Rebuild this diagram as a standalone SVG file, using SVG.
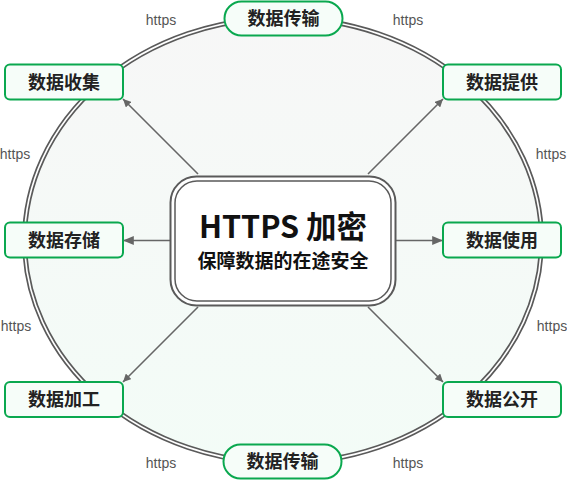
<svg xmlns="http://www.w3.org/2000/svg" width="567" height="481" viewBox="0 0 567 481">
<defs>
<linearGradient id="bg" x1="0" y1="0" x2="0" y2="1">
<stop offset="0" stop-color="#f7f7f7"/>
<stop offset="1" stop-color="#f3fcf7"/>
</linearGradient>
<marker id="arr" viewBox="0 0 10 10" refX="10" refY="5" markerWidth="8" markerHeight="8" markerUnits="userSpaceOnUse" orient="auto">
<path d="M0,0 L10,5 L0,10 z" fill="#666"/>
</marker>
<marker id="arrL" viewBox="0 0 12 10" refX="12" refY="5" markerWidth="12" markerHeight="9" markerUnits="userSpaceOnUse" orient="auto">
<path d="M0,0 L12,5 L0,10 z" fill="#666"/>
</marker>
</defs>
<style>
.node rect{fill:#f6fdf9;stroke:#0aa84f;stroke-width:2}
.node text{font-family:"Noto Sans CJK SC","Noto Sans",sans-serif;font-weight:bold;font-size:18px;fill:#222;text-anchor:middle}
.lbl{font-family:"Liberation Sans",Arial,sans-serif;font-size:14px;fill:#555;text-anchor:middle}
.conn line{stroke:#666;stroke-width:1.6;fill:none}
</style>
<g id="ring">
<ellipse cx="283" cy="240.5" rx="258.5" ry="222.5" fill="url(#bg)" stroke="#5a5a5a" stroke-width="5"/>
<ellipse cx="283" cy="240.5" rx="258.5" ry="222.5" fill="none" stroke="#fff" stroke-width="1.6"/>
</g>
<g class="lbl-group">
<text class="lbl" x="161" y="25">https</text>
<text class="lbl" x="408" y="25">https</text>
<text class="lbl" x="15" y="159">https</text>
<text class="lbl" x="551" y="159">https</text>
<text class="lbl" x="16" y="331">https</text>
<text class="lbl" x="552" y="331">https</text>
<text class="lbl" x="161" y="468">https</text>
<text class="lbl" x="408" y="468">https</text>
</g>
<g class="conn" id="connectors">
<line x1="198" y1="174" x2="123" y2="99" marker-end="url(#arr)"/>
<line x1="368" y1="174" x2="443" y2="99" marker-end="url(#arr)"/>
<line x1="170" y1="240.5" x2="123" y2="240.5" marker-end="url(#arrL)"/>
<line x1="396" y1="240.5" x2="443" y2="240.5" marker-end="url(#arrL)"/>
<line x1="198" y1="307" x2="123" y2="382" marker-end="url(#arr)"/>
<line x1="368" y1="307" x2="443" y2="382" marker-end="url(#arr)"/>
</g>
<g id="center">
<rect x="170.5" y="176.5" width="225" height="129" rx="26" fill="#fff" stroke="#5a5a5a" stroke-width="2"/>
<rect x="175" y="181" width="216" height="120" rx="22" fill="#fff" stroke="#5a5a5a" stroke-width="1.5"/>
<text x="283" y="238" font-family="Noto Sans CJK SC,Noto Sans,sans-serif" font-weight="bold" font-size="30.5" fill="#111" text-anchor="middle">HTTPS 加密</text>
<text x="283" y="268" font-family="Noto Sans CJK SC,Noto Sans,sans-serif" font-weight="bold" font-size="19" fill="#111" text-anchor="middle">保障数据的在途安全</text>
</g>
<g class="node" id="n-top"><rect x="224.5" y="1.5" width="118" height="34" rx="17"/><text x="283.5" y="24.5">数据传输</text></g>
<g class="node" id="n-collect"><rect x="5" y="64.5" width="118" height="35" rx="5"/><text x="64" y="88.5">数据收集</text></g>
<g class="node" id="n-provide"><rect x="443" y="64.5" width="118" height="35" rx="5"/><text x="502" y="88.5">数据提供</text></g>
<g class="node" id="n-store"><rect x="5" y="222.5" width="118" height="35" rx="5"/><text x="64" y="246.5">数据存储</text></g>
<g class="node" id="n-use"><rect x="443" y="222.5" width="118" height="35" rx="5"/><text x="502" y="246.5">数据使用</text></g>
<g class="node" id="n-process"><rect x="5" y="382" width="118" height="35" rx="5"/><text x="64" y="406">数据加工</text></g>
<g class="node" id="n-public"><rect x="443" y="382" width="118" height="35" rx="5"/><text x="502" y="406">数据公开</text></g>
<g class="node" id="n-bottom"><rect x="223.5" y="444.5" width="118" height="34" rx="17"/><text x="282.5" y="468">数据传输</text></g>
</svg>
